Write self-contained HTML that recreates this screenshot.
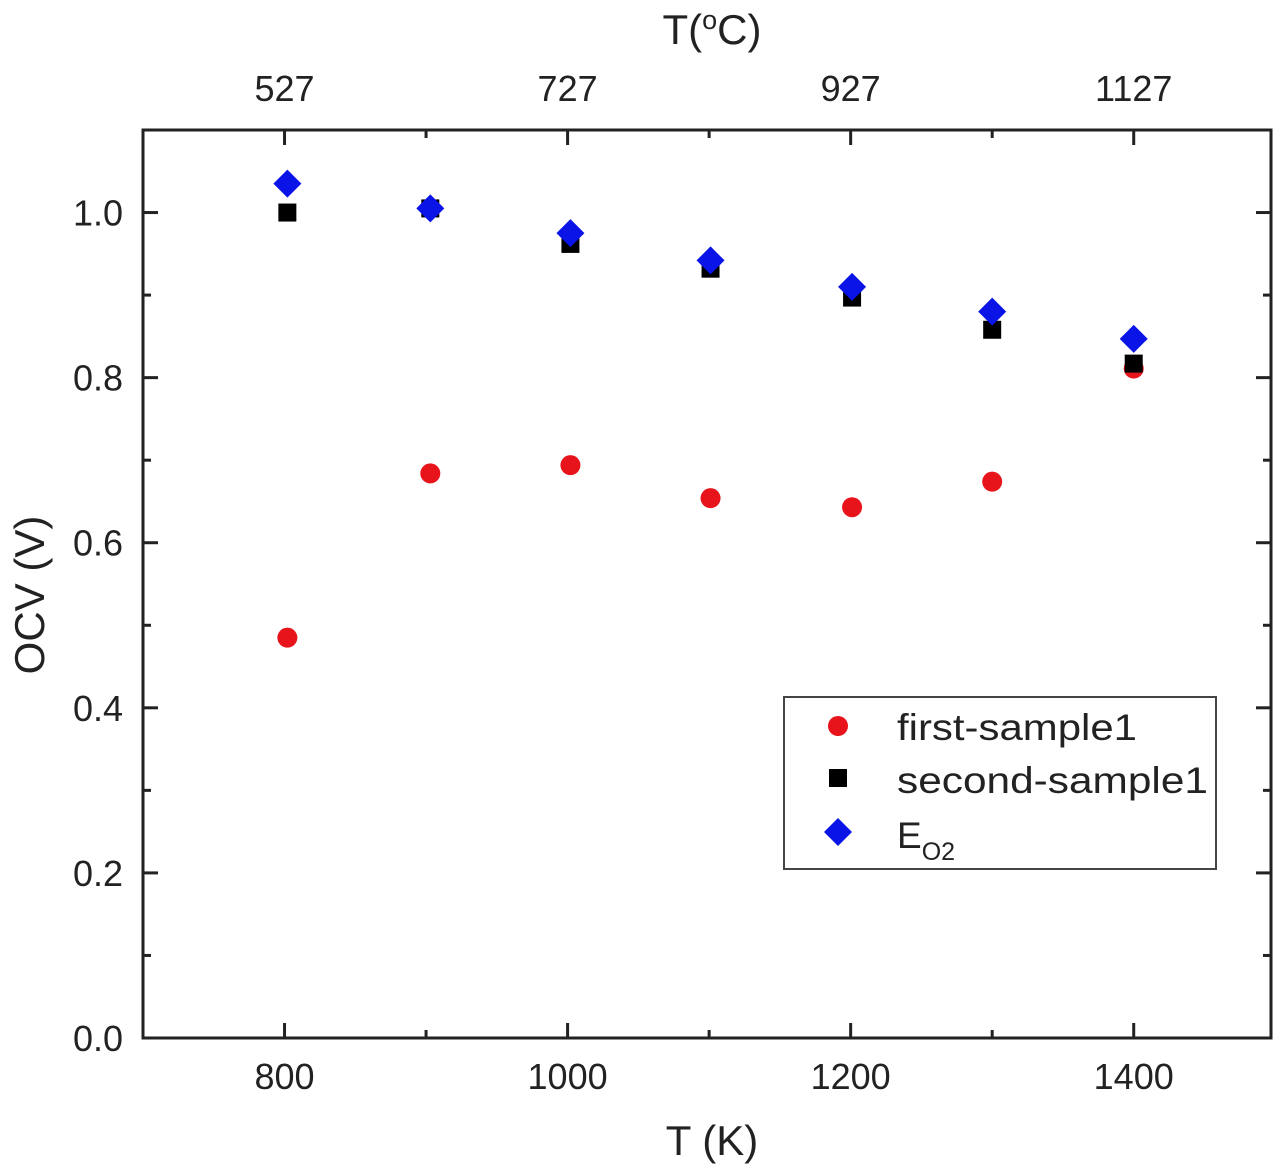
<!DOCTYPE html>
<html><head><meta charset="utf-8"><style>
html,body{margin:0;padding:0;background:#fff;}
svg{display:block;font-family:"Liberation Sans",Arial,sans-serif;}
</style></head><body>
<svg id="chart" width="1280" height="1176" viewBox="0 0 1280 1176">
<g id="axes"></g>
<g id="marks"></g>
<g id="legend">
  <rect x="784" y="697" width="432" height="172" fill="#fff" stroke="#444" stroke-width="2"/>
  <circle cx="838" cy="726" r="10" fill="#e8141c"/>
  <text x="897" y="740" font-size="37" textLength="240" lengthAdjust="spacingAndGlyphs" fill="#222">first-sample1</text>
  <rect x="829" y="769" width="18" height="18" fill="#000"/>
  <text x="897" y="793" font-size="37" textLength="311" lengthAdjust="spacingAndGlyphs" fill="#222">second-sample1</text>
  <polygon points="838,818 852,832 838,846 824,832" fill="#0a14e6"/>
  <text x="897" y="848" font-size="37" fill="#222">E<tspan font-size="25" dy="12">O2</tspan></text>
</g>
<text x="712" y="1155" font-size="42" text-anchor="middle" fill="#222">T (K)</text>
<text x="712" y="44" font-size="42" text-anchor="middle" fill="#222">T(<tspan font-size="27" dy="-15">o</tspan><tspan dy="15">C)</tspan></text>
<text transform="translate(44,595) rotate(-90)" font-size="42" text-anchor="middle" fill="#222">OCV (V)</text>
</svg>
<script>
const temps = [802, 903, 1002, 1101, 1201, 1300, 1400];
const firstSample = [0.485, 0.684, 0.694, 0.654, 0.643, 0.674, 0.811];
const secondSample = [1.0, 1.005, 0.962, 0.932, 0.897, 0.858, 0.817];
const eO2 = [1.035, 1.005, 0.975, 0.942, 0.910, 0.880, 0.847];
const xTicks = [800, 1000, 1200, 1400];
const xTickLabels = ["800", "1000", "1200", "1400"];
const topTickLabels = ["527", "727", "927", "1127"];
const yTicks = [0, 0.2, 0.4, 0.6, 0.8, 1.0];
const yTickLabels = ["0.0", "0.2", "0.4", "0.6", "0.8", "1.0"];

const L=143, R=1271, T=130, B=1038;
const xMin=700, xMax=1497, yMin=0, yMax=1.1;
function xs(v){return L+(v-xMin)/(xMax-xMin)*(R-L);}
function ys(v){return B-(v-yMin)/(yMax-yMin)*(B-T);}
const NS="http://www.w3.org/2000/svg";
function mk(tag, attrs, parent){const e=document.createElementNS(NS,tag);for(const k in attrs)e.setAttribute(k,attrs[k]);parent.appendChild(e);return e;}
const ax=document.getElementById('axes'), mg=document.getElementById('marks');

let frame=mk('rect',{x:L,y:T,width:R-L,height:B-T,fill:'none',stroke:'#222','stroke-width':3},ax);



for(let v=800; v<=1400; v+=100){
  const major = (v%200===0);
  const len = major?15:8, x=xs(v);
  let t1=mk('line',{x1:x,y1:B,x2:x,y2:B-len,stroke:'#222','stroke-width':3},ax);
  
  
  let t2=mk('line',{x1:x,y1:T,x2:x,y2:T+len,stroke:'#222','stroke-width':3},ax);
  
  
}
xTicks.forEach((v,i)=>{
  let t=mk('text',{x:xs(v),y:1089,'font-size':36,'text-anchor':'middle',fill:'#222'},ax);
  t.textContent=xTickLabels[i];
  
  
  let u=mk('text',{x:xs(v),y:101,'font-size':36,'text-anchor':'middle',fill:'#222'},ax);
  u.textContent=topTickLabels[i];
  
  
});
for(let k=0;k<=11;k++){
  const v=k/10, major=(k%2===0), len=major?15:8, y=ys(v);
  let t1=mk('line',{x1:L,y1:y,x2:L+len,y2:y,stroke:'#222','stroke-width':3},ax);
  
  
  let t2=mk('line',{x1:R,y1:y,x2:R-len,y2:y,stroke:'#222','stroke-width':3},ax);
  
  
}
yTicks.forEach((v,i)=>{
  let t=mk('text',{x:123,y:ys(v)+13,'font-size':36,'text-anchor':'end',fill:'#222'},ax);
  t.textContent=yTickLabels[i];
  
  
});

temps.forEach((tv,i)=>{
  const x=xs(tv);
  let c=mk('circle',{cx:x,cy:ys(firstSample[i]),r:10,fill:'#e8141c'},mg);
  
  
});
temps.forEach((tv,i)=>{
  const x=xs(tv), y=ys(secondSample[i]);
  let s=mk('rect',{x:x-9,y:y-9,width:18,height:18,fill:'#000'},mg);
  
  
});
temps.forEach((tv,i)=>{
  const x=xs(tv), y=ys(eO2[i]);
  let d=mk('polygon',{points:`${x},${y-14} ${x+14},${y} ${x},${y+14} ${x-14},${y}`,fill:'#0a14e6'},mg);
  
  
});
</script>
</body></html>
